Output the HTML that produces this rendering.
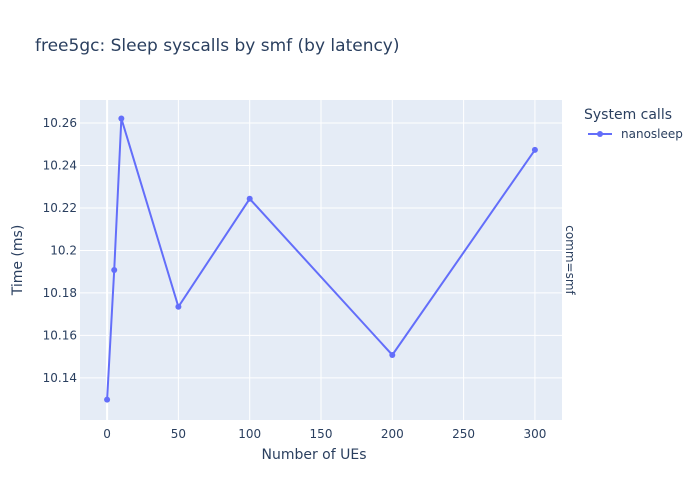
<!DOCTYPE html>
<html><head><meta charset="utf-8"><style>
body{margin:0;background:#fff;font-family:"DejaVu Sans",Verdana,sans-serif;}
svg text{font-family:"DejaVu Sans",Verdana,sans-serif;}
</style></head><body>
<svg id="chart" width="700" height="500">
<rect width="700" height="500" fill="#fff"/>
<text x="35" y="51" font-size="17" fill="#2a3f5f">free5gc: Sleep syscalls by smf (by latency)</text>
<rect x="80" y="100" width="482" height="320" fill="#e5ecf6"/>
<g id="grid"></g>
<g id="xticks"></g>
<g id="yticks"></g>
<g id="series"></g>
<text x="314" y="459" font-size="14" fill="#2a3f5f" text-anchor="middle">Number of UEs</text>
<text transform="translate(22,260) rotate(-90)" font-size="14" fill="#2a3f5f" text-anchor="middle">Time (ms)</text>
<text transform="translate(566,260) rotate(90)" font-size="12" fill="#2a3f5f" text-anchor="middle">comm=smf</text>
<text x="584" y="119" font-size="14" fill="#2a3f5f">System calls</text>
<g>
<line x1="588" y1="134" x2="612" y2="134" stroke="#636efa" stroke-width="2"/>
<circle cx="600" cy="134" r="3" fill="#636efa"/>
<text x="621" y="138" font-size="12" fill="#2a3f5f">nanosleep</text>
</g>
</svg>
<script>
const categories=[0,5,10,50,100,200,300];
const values=[10.1298,10.1908,10.2621,10.1735,10.2243,10.1508,10.2473];
const xTicks=[0,50,100,150,200,250,300];
const yTicks=[10.14,10.16,10.18,10.2,10.22,10.24,10.26];
const yTickLabels=["10.14","10.16","10.18","10.2","10.22","10.24","10.26"];
const NS="http://www.w3.org/2000/svg";
const X0=80,X1=562,Y0=100,Y1=420;
const xMin=-19,xMax=319,yMin=10.1202,yMax=10.2708;
const xs=v=>X0+(v-xMin)/(xMax-xMin)*(X1-X0);
const ys=v=>Y1-(v-yMin)/(yMax-yMin)*(Y1-Y0);
function mk(t,a,p){const e=document.createElementNS(NS,t);for(const k in a)e.setAttribute(k,a[k]);p.appendChild(e);return e;}
const grid=document.getElementById('grid'),xt=document.getElementById('xticks'),yt=document.getElementById('yticks'),ser=document.getElementById('series');
xTicks.forEach(v=>{
const l=mk('line',{x1:xs(v),x2:xs(v),y1:Y0,y2:Y1,stroke:'#fff','stroke-width':v===0?2:1},grid);


const t=mk('text',{x:xs(v),y:Y1+18,'font-size':12,fill:'#2a3f5f','text-anchor':'middle'},xt);
t.textContent=v;


});
yTicks.forEach((v,i)=>{
const l=mk('line',{x1:X0,x2:X1,y1:ys(v),y2:ys(v),stroke:'#fff','stroke-width':1},grid);


const t=mk('text',{x:X0-3,y:ys(v)+4,'font-size':12,fill:'#2a3f5f','text-anchor':'end'},yt);
t.textContent=yTickLabels[i];


});
const pts=categories.map((c,i)=>xs(c)+','+ys(values[i])).join(' ');
const pl=mk('polyline',{points:pts,fill:'none',stroke:'#636efa','stroke-width':2},ser);


categories.forEach((c,i)=>{
const p=mk('circle',{cx:xs(c),cy:ys(values[i]),r:3,fill:'#636efa'},ser);


});
</script>
</body></html>
